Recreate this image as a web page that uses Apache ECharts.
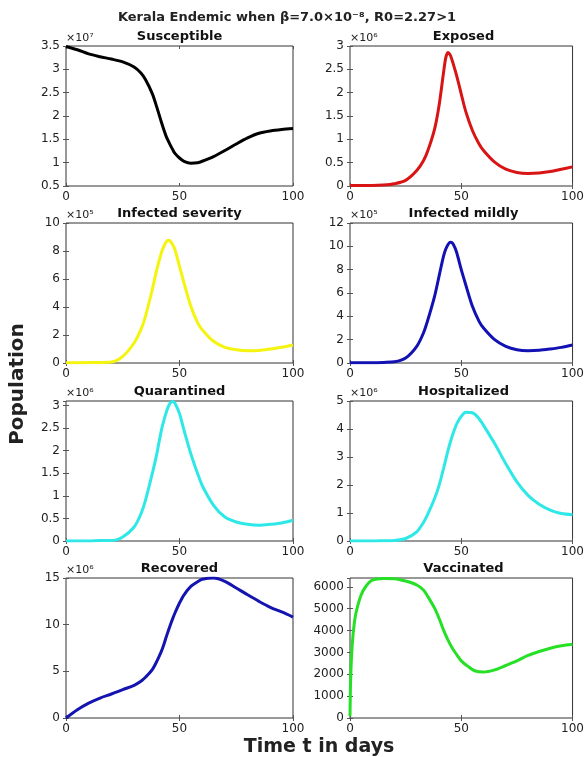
<!DOCTYPE html>
<html>
<head>
<meta charset="utf-8">
<script src="https://cdn.jsdelivr.net/npm/echarts@6/dist/echarts.min.js"></script>
<style>
  html, body { margin: 0; padding: 0; background: #fff; }
  #main { width: 587px; height: 757px; }
</style>
</head>
<body>
<div id="main"></div>
<script>
// time axis (days)
var days = [0, 5, 10, 15, 20, 25, 30, 33, 35, 38, 40, 42, 43, 44, 45, 46, 47, 48, 50, 52, 55, 58, 60, 65, 70, 75, 80, 85, 90, 95, 100];
var vacDays = [0, 0.3, 1, 2, 3, 5, 7, 10, 15, 20, 25, 30, 33, 35, 38, 40, 42, 44, 46, 48, 50, 53, 56, 60, 65, 70, 75, 80, 85, 90, 95, 100];

// values in the units shown on each axis (see multipliers)
var susceptible = [3.49, 3.42, 3.33, 3.27, 3.22, 3.16, 3.05, 2.92, 2.78, 2.48, 2.19, 1.87, 1.72, 1.58, 1.47, 1.37, 1.28, 1.20, 1.10, 1.03, 0.99, 1.00, 1.03, 1.13, 1.26, 1.40, 1.53, 1.63, 1.68, 1.71, 1.73];
var exposed = [0.01, 0.01, 0.01, 0.02, 0.05, 0.12, 0.33, 0.54, 0.76, 1.22, 1.72, 2.42, 2.74, 2.86, 2.81, 2.68, 2.52, 2.35, 1.97, 1.60, 1.19, 0.90, 0.76, 0.51, 0.36, 0.29, 0.27, 0.28, 0.31, 0.36, 0.41];
var infectedSevere = [0.02, 0.02, 0.03, 0.04, 0.07, 0.48, 1.43, 2.38, 3.33, 5.24, 6.67, 7.86, 8.30, 8.62, 8.76, 8.69, 8.45, 8.10, 6.90, 5.71, 4.05, 2.86, 2.38, 1.55, 1.12, 0.95, 0.88, 0.90, 1.00, 1.12, 1.29];
var infectedMild = [0.02, 0.02, 0.03, 0.05, 0.10, 0.43, 1.43, 2.57, 3.71, 5.71, 7.43, 9.14, 9.75, 10.14, 10.34, 10.29, 9.95, 9.43, 8.00, 6.71, 4.86, 3.57, 3.00, 2.00, 1.43, 1.14, 1.06, 1.09, 1.20, 1.34, 1.54];
var quarantined = [0, 0, 0, 0.01, 0.01, 0.09, 0.31, 0.60, 0.90, 1.49, 1.93, 2.45, 2.65, 2.82, 2.97, 3.06, 3.09, 3.05, 2.82, 2.45, 1.93, 1.49, 1.23, 0.79, 0.53, 0.42, 0.37, 0.35, 0.37, 0.40, 0.46];
var hospitalized = [0, 0, 0, 0.01, 0.02, 0.09, 0.33, 0.66, 0.97, 1.52, 1.98, 2.58, 2.90, 3.22, 3.51, 3.77, 3.99, 4.19, 4.45, 4.60, 4.58, 4.37, 4.13, 3.48, 2.76, 2.11, 1.63, 1.31, 1.10, 0.98, 0.94];
var recovered = [0, 0.89, 1.60, 2.14, 2.57, 3.04, 3.50, 3.93, 4.36, 5.18, 6.07, 7.14, 7.80, 8.57, 9.30, 10.0, 10.65, 11.25, 12.32, 13.2, 14.1, 14.6, 14.86, 15.0, 14.64, 13.93, 13.2, 12.5, 11.86, 11.36, 10.82];
var vaccinated = [80, 1800, 3340, 4400, 4940, 5620, 6000, 6300, 6380, 6370, 6260, 6080, 5850, 5550, 5020, 4560, 4030, 3570, 3190, 2890, 2610, 2360, 2160, 2100, 2200, 2400, 2610, 2860, 3040, 3190, 3300, 3370];

var panelTitles = ["Susceptible", "Exposed", "Infected severity", "Infected mildly", "Quarantined", "Hospitalized", "Recovered", "Vaccinated"];
var multipliers = ["×10⁷", "×10⁶", "×10⁵", "×10⁵", "×10⁶", "×10⁶", "×10⁶", ""];
var yMin = [0.5, 0, 0, 0, 0, 0, 0, 0];
var yMax = [3.5, 3, 10, 12, 3.1, 5, 15, 6400];
var yStep = [0.5, 0.5, 2, 2, 0.5, 1, 5, 1000];
var xMin = 0, xMax = 100, xStep = 50;

var seriesX = [days, days, days, days, days, days, days, vacDays];
var seriesY = [susceptible, exposed, infectedSevere, infectedMild, quarantined, hospitalized, recovered, vaccinated];
var colors = ["#000000", "#d81414", "#f4f40e", "#1212b4", "#2ee8e8", "#2ee8e8", "#1414b0", "#26e026"];

var chartDom = document.getElementById("main");
var myChart = echarts.init(chartDom);

// layout of the 4x2 panels
var colLeft = [66, 350];
var rowTop = [46, 223, 401, 578];
var plotW = 227, plotH = 140;
var font = "DejaVu Sans";
var txt = "#222";

var grids = [], xAxes = [], yAxes = [], series = [];
var graphics = [
  { type: "text", x: 287, y: 18, style: { text: "Kerala Endemic when β=7.0×10⁻⁸, R0=2.27>1", fontFamily: font, fontWeight: "bold", fontSize: 13, fill: txt, align: "center", verticalAlign: "middle" } },
  { type: "text", x: 18, y: 384, rotation: Math.PI / 2, style: { text: "Population", fontFamily: font, fontWeight: "bold", fontSize: 20, fill: txt, align: "center", verticalAlign: "middle" } },
  { type: "text", x: 319, y: 747, style: { text: "Time t in days", fontFamily: font, fontWeight: "bold", fontSize: 19, fill: txt, align: "center", verticalAlign: "middle" } }
];

function plainNum(v) {
  return String(Math.round(v * 1000) / 1000);
}

for (var i = 0; i < 8; i++) {
  var gLeft = colLeft[i % 2];
  var gTop = rowTop[Math.floor(i / 2)];
  grids.push({ left: gLeft, top: gTop, width: plotW, height: plotH, show: true, borderColor: "#333", borderWidth: 1, backgroundColor: "#fff" });

  var hideMax = (yMax[i] - yMin[i]) % yStep[i] > 1e-9;
  var tick = { show: true, inside: true, length: 3, lineStyle: { color: "#555" } };
  var label = { fontFamily: font, fontSize: 12, color: txt, formatter: plainNum };

  xAxes.push({
    gridIndex: i, type: "value", min: xMin, max: xMax, interval: xStep,
    axisLine: { show: false }, axisTick: tick, splitLine: { show: false },
    axisLabel: Object.assign({ margin: 5 }, label)
  });
  xAxes.push({
    gridIndex: i, type: "value", position: "top", min: xMin, max: xMax, interval: xStep,
    axisLine: { show: false }, axisTick: tick, splitLine: { show: false }, axisLabel: { show: false }
  });
  yAxes.push({
    gridIndex: i, type: "value", min: yMin[i], max: yMax[i], interval: yStep[i],
    name: multipliers[i], nameLocation: "end", nameGap: 2,
    nameTextStyle: { fontFamily: font, fontSize: 11, color: txt, align: "left", verticalAlign: "bottom" },
    axisLine: { show: false }, axisTick: tick, splitLine: { show: false },
    axisLabel: Object.assign({ margin: 6, showMaxLabel: !hideMax }, label)
  });
  yAxes.push({
    gridIndex: i, type: "value", position: "right", min: yMin[i], max: yMax[i], interval: yStep[i],
    axisLine: { show: false }, axisTick: tick, splitLine: { show: false }, axisLabel: { show: false }
  });

  var pts = seriesX[i].map(function (d, k) { return [d, seriesY[i][k]]; });
  series.push({
    type: "line", name: panelTitles[i], xAxisIndex: 2 * i, yAxisIndex: 2 * i,
    data: pts, showSymbol: false, smooth: 0.3,
    lineStyle: { color: colors[i], width: 3 }, silent: true
  });

  graphics.push({
    type: "text", x: gLeft + plotW / 2, y: gTop - 9,
    style: { text: panelTitles[i], fontFamily: font, fontWeight: "bold", fontSize: 13, fill: "#111", align: "center", verticalAlign: "middle" }
  });
}

var option = {
  animation: false,
  backgroundColor: "#fff",
  grid: grids,
  xAxis: xAxes,
  yAxis: yAxes,
  series: series,
  graphic: graphics
};

option && myChart.setOption(option);
</script>
</body>
</html>
